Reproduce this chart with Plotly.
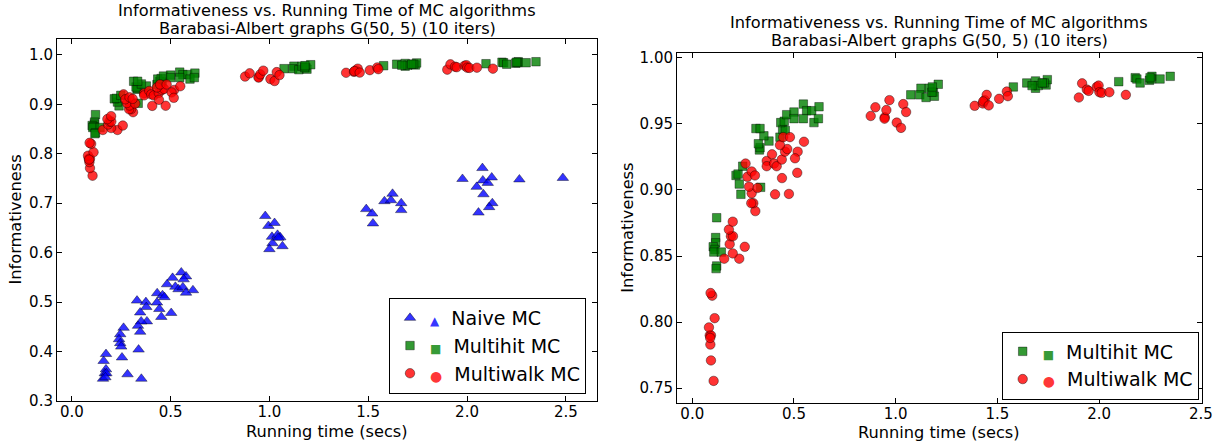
import plotly.graph_objects as go

# ---------------- data ----------------
naive_x = [0.979, 0.995, 1.026, 1.013, 1.041, 1.055, 1.016, 1.000, 1.066, 1.045,
           0.554, 0.578, 0.510, 0.566, 0.482, 0.524, 0.540, 0.562, 0.613, 0.578,
           0.432, 0.459, 0.469, 0.431, 0.330, 0.375, 0.377, 0.443, 0.346, 0.503,
           0.453, 0.380, 0.351, 0.335, 0.346, 0.262, 0.245, 0.239, 0.245, 0.250,
           0.338, 0.254, 0.173, 0.161, 0.173, 0.167, 0.175, 0.158, 0.170, 0.282,
           0.352,
           1.490, 1.520, 1.524, 1.582, 1.615, 1.623, 1.667, 1.667,
           1.977, 2.078, 2.080, 2.105, 2.125, 2.049, 2.083, 2.128, 2.112, 2.058,
           2.265, 2.485]
naive_y = [0.674, 0.654, 0.660, 0.632, 0.636, 0.631, 0.619, 0.607, 0.613, 0.630,
           0.560, 0.552, 0.549, 0.546, 0.536, 0.531, 0.526, 0.530, 0.524, 0.519,
           0.518, 0.514, 0.510, 0.499, 0.503, 0.500, 0.490, 0.486, 0.479, 0.478,
           0.470, 0.461, 0.461, 0.452, 0.440, 0.448, 0.435, 0.425, 0.417, 0.410,
           0.404, 0.388, 0.395, 0.381, 0.364, 0.356, 0.356, 0.345, 0.348, 0.354,
           0.345,
           0.688, 0.679, 0.659, 0.704, 0.706, 0.719, 0.700, 0.686,
           0.749, 0.771, 0.746, 0.741, 0.752, 0.733, 0.718, 0.700, 0.692, 0.681,
           0.748, 0.751]

multihit_x = [0.120, 0.115, 0.115, 0.103, 0.111, 0.106, 0.143, 0.120, 0.117,
              0.239, 0.231, 0.215, 0.225, 0.248, 0.336, 0.330, 0.333, 0.325, 0.377,
              0.352, 0.313, 0.333, 0.431, 0.444, 0.457, 0.435, 0.452, 0.464, 0.500,
              0.546, 0.562, 0.587, 0.623, 0.546, 0.598, 0.620, 0.500,
              1.074, 1.124, 1.118, 1.149, 1.165, 1.185, 1.190, 1.209, 1.178, 1.180,
              1.578, 1.644, 1.687, 1.687, 1.700, 1.739, 1.745, 1.730, 1.670, 1.720,
              2.096, 2.177, 2.185, 2.201, 2.247, 2.259, 2.257, 2.299, 2.349, 2.250]
multihit_y = [0.879, 0.864, 0.860, 0.857, 0.855, 0.853, 0.853, 0.8425, 0.8405,
              0.8967, 0.9045, 0.911, 0.912, 0.918, 0.902, 0.9303, 0.932, 0.935, 0.937,
              0.941, 0.9465, 0.9465, 0.940, 0.946, 0.945, 0.951, 0.952, 0.957, 0.959,
              0.965, 0.960, 0.960, 0.963, 0.954, 0.951, 0.954, 0.954,
              0.972, 0.977, 0.972, 0.970, 0.977, 0.974, 0.971, 0.980, 0.974, 0.978,
              0.978, 0.981, 0.9825, 0.977, 0.979, 0.9795, 0.9835, 0.981, 0.979, 0.981,
              0.982, 0.985, 0.984, 0.981, 0.983, 0.986, 0.984, 0.984, 0.986, 0.985]

multiwalk_x = [0.105, 0.092, 0.089, 0.086, 0.092, 0.082, 0.110, 0.098, 0.090, 0.088,
               0.157, 0.231, 0.199, 0.258, 0.184, 0.190, 0.200, 0.180, 0.199, 0.262,
               0.310, 0.300, 0.290, 0.292, 0.279, 0.321, 0.271, 0.292, 0.308,
               0.407, 0.475, 0.366, 0.366, 0.392, 0.402, 0.415, 0.440, 0.441, 0.456,
               0.467, 0.431, 0.447, 0.480, 0.518, 0.505, 0.516, 0.549,
               0.877, 0.900, 0.946, 0.945, 0.954, 0.969, 1.005, 1.026, 1.037, 1.051,
               1.388, 1.428, 1.437, 1.447, 1.430, 1.457, 1.508, 1.546, 1.551,
               1.900, 1.916, 1.939, 1.948, 1.988, 1.997, 2.001, 2.012, 2.050, 2.131]
multiwalk_y = [0.7555, 0.771, 0.783, 0.790, 0.790, 0.796, 0.803, 0.820, 0.822, 0.788,
               0.848, 0.848, 0.852, 0.857, 0.859, 0.865, 0.865, 0.870, 0.876, 0.920,
               0.884, 0.890, 0.890, 0.8975, 0.9025, 0.9015, 0.910, 0.914, 0.911,
               0.8967, 0.897, 0.922, 0.918, 0.927, 0.920, 0.918, 0.923, 0.909, 0.929,
               0.931, 0.934, 0.940, 0.940, 0.929, 0.924, 0.913, 0.9365,
               0.956, 0.9626, 0.955, 0.954, 0.9605, 0.968, 0.951, 0.947, 0.965, 0.959,
               0.9637, 0.9655, 0.968, 0.972, 0.967, 0.964, 0.969, 0.9745, 0.971,
               0.970, 0.9807, 0.976, 0.975, 0.978, 0.979, 0.974, 0.9735, 0.974, 0.972]

x_ticks = [0.0, 0.5, 1.0, 1.5, 2.0, 2.5]
left_y_ticks = [0.3, 0.4, 0.5, 0.6, 0.7, 0.8, 0.9, 1.0]
right_y_ticks = [0.75, 0.80, 0.85, 0.90, 0.95, 1.00]

title_line1 = "Informativeness vs. Running Time of MC algorithms"
title_line2 = "Barabasi-Albert graphs G(50, 5) (10 iters)"
x_title = "Running time (secs)"
y_title = "Informativeness"

# ---------------- styles ----------------
FONT = "DejaVu Sans"
BLUE = "rgba(0,0,255,0.8)"
GREEN = "rgba(0,128,0,0.8)"
RED = "rgba(255,0,0,0.8)"
EDGE = dict(color="rgba(0,0,0,0.8)", width=0.5)
W, H = 1215.0, 444.0

fig = go.Figure()

def legend_label(glyph, color, text, fsize):
    # second legend marker (matplotlib draws two markers per entry)
    return ('<span style="font-size:%dpx;color:%s">%s</span>  %s' % (fsize, color, glyph, text))

def add_series(x, y, name, color, symbol, size, xa, ya, legend, group):
    fig.add_trace(go.Scatter(
        x=x, y=y, mode="markers", name=name, legendgroup=group,
        marker=dict(color=color, symbol=symbol, size=size, line=EDGE),
        xaxis=xa, yaxis=ya, legend=legend, showlegend=True))

add_series(naive_x, naive_y, legend_label("▲", BLUE, "Naive MC", 12), BLUE,
           "triangle-up", 10, "x", "y", "legend", "naive")
add_series(multihit_x, multihit_y, legend_label("■", GREEN, "Multihit MC", 12), GREEN,
           "square", 8.5, "x", "y", "legend", "hit")
add_series(multiwalk_x, multiwalk_y, legend_label("●", RED, "Multiwalk MC", 14), RED,
           "circle", 9.5, "x", "y", "legend", "walk")
add_series(multihit_x, multihit_y, legend_label("■", GREEN, "Multihit MC", 12), GREEN,
           "square", 8.5, "x2", "y2", "legend2", "hit2")
add_series(multiwalk_x, multiwalk_y, legend_label("●", RED, "Multiwalk MC", 14), RED,
           "circle", 9.5, "x2", "y2", "legend2", "walk2")

axis_common = dict(showline=True, linecolor="black", linewidth=1, mirror="allticks",
                   ticks="inside", ticklen=5, tickcolor="black", showgrid=False,
                   zeroline=False, automargin=False,
                   tickfont=dict(family=FONT, size=15, color="black"))

legend_common = dict(xanchor="left", yanchor="top",
                     bordercolor="black", borderwidth=1, bgcolor="white",
                     font=dict(family=FONT, size=19, color="black"),
                     itemwidth=30, tracegroupgap=0)

def text_ann(text, xref, x, ypx, size, angle=0, yref="paper", y=None):
    return dict(text=text, xref=xref, yref=yref, x=x,
                y=(1 - ypx / H) if y is None else y,
                xanchor="center", yanchor="middle", showarrow=False, textangle=angle,
                font=dict(family=FONT, size=size, color="black"))

fig.update_layout(
    width=1215, height=444,
    margin=dict(l=0, r=0, t=0, b=0),
    paper_bgcolor="white", plot_bgcolor="white",
    font=dict(family=FONT, size=15, color="black"),
    xaxis=dict(domain=[0.0469, 0.4914], range=[-0.075, 2.658],
               tickvals=x_ticks, tickformat=".1f", ticklabelstandoff=-3, **axis_common),
    yaxis=dict(domain=[0.0968, 0.9122], range=[0.3, 1.032],
               tickvals=left_y_ticks, tickformat=".1f", **axis_common),
    xaxis2=dict(domain=[0.5572, 0.9891], range=[-0.075, 2.504], anchor="y2",
                tickvals=x_ticks, tickformat=".1f", ticklabelstandoff=-3, **axis_common),
    yaxis2=dict(domain=[0.0930, 0.8813], range=[0.739, 1.0039], anchor="x2",
                tickvals=right_y_ticks, tickformat=".2f", **axis_common),
    legend=dict(x=389 / W, y=1 - 298 / H, **legend_common),
    legend2=dict(x=1001.7 / W, y=1 - 331.5 / H, **legend_common),
    annotations=[
        text_ann(title_line1, "x domain", 0.5, 10.5, 16.2),
        text_ann(title_line2, "x domain", 0.5, 28, 16.2),
        text_ann(title_line1, "x2 domain", 0.5, 22.5, 16.2),
        text_ann(title_line2, "x2 domain", 0.5, 40.5, 16.2),
        text_ann(x_title, "x domain", 0.5, 431, 16.2),
        text_ann(x_title, "x2 domain", 0.5, 432, 16.2),
        text_ann(y_title, "paper", 15.5 / W, 0, 16.2, angle=-90, yref="y domain", y=0.5),
        text_ann(y_title, "paper", 628 / W, 0, 16.2, angle=-90, yref="y2 domain", y=0.5),
    ],
)

fig.write_html("out.html",
               config={"displayModeBar": False},
               post_script="document.body.style.margin='0px';"
                           "document.body.style.overflow='hidden';")
